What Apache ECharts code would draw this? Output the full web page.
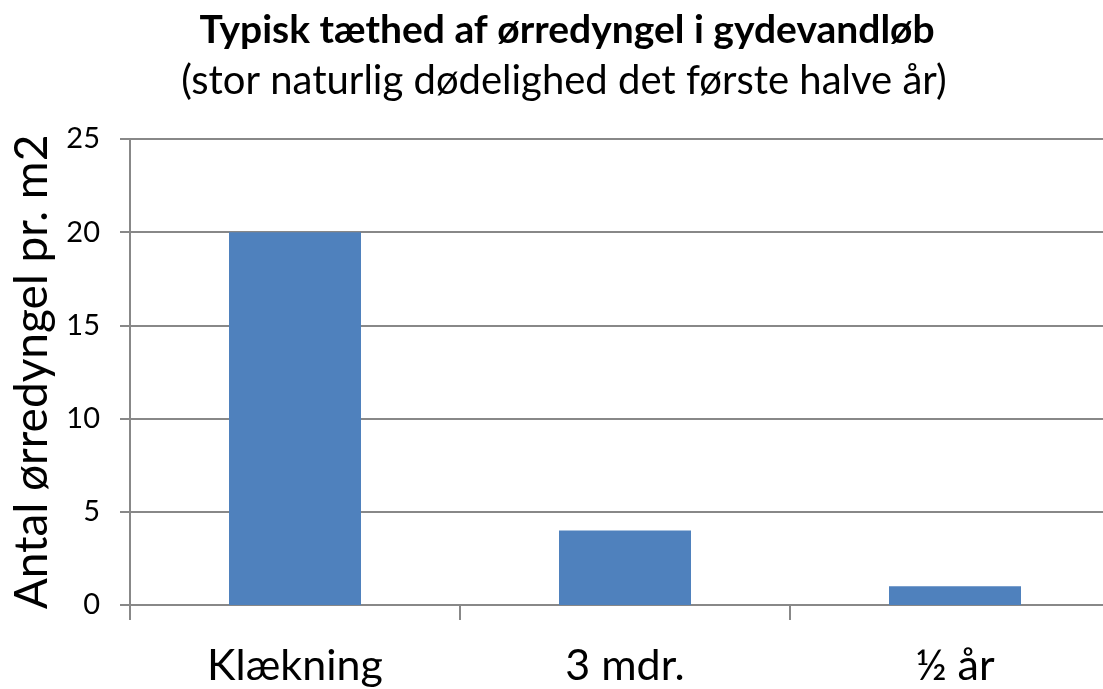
<!DOCTYPE html>
<html lang="da">
<head>
    <meta charset="UTF-8">
    <title>Typisk tæthed af ørredyngel i gydevandløb</title>
    <script src="https://cdn.jsdelivr.net/npm/echarts@6/dist/echarts.min.js"></script>
    <style>
        body { margin: 0; background: #fff; }
        #chart { width: 1103px; height: 689px; }
    </style>
</head>
<body>
    <div id="chart"></div>
    <script>
        // data
        const categories = ['Klækning', '3 mdr.', '½ år'];
        const values = [20, 4, 1];
        const yTicks = [0, 5, 10, 15, 20, 25];

        const font = "Lato, 'Open Sans', sans-serif";
        const chart = echarts.init(document.getElementById('chart'));
        chart.setOption({
            animation: false,
            title: [
                { text: 'Typisk tæthed af ørredyngel i gydevandløb', left: 562, top: 6, textAlign: 'center',
                  textStyle: { fontFamily: font, fontSize: 39, fontWeight: 'bold', color: '#000' } },
                { text: '(stor naturlig dødelighed det første halve år)', left: 559, top: 56, textAlign: 'center',
                  textStyle: { fontFamily: font, fontSize: 40, fontWeight: 'normal', color: '#000' } }
            ],
            grid: { left: 130, top: 139, width: 990, height: 466, outerBoundsMode: 'none' },
            xAxis: {
                type: 'category',
                data: categories,
                axisLine: { lineStyle: { color: '#888', width: 2 } },
                axisTick: { show: true, length: 15, lineStyle: { color: '#888', width: 2 } },
                axisLabel: { fontFamily: font, fontSize: 43, color: '#000', margin: 40 }
            },
            yAxis: {
                type: 'value',
                min: yTicks[0],
                max: yTicks[yTicks.length - 1],
                interval: 5,
                name: 'Antal ørredyngel pr. m2',
                nameLocation: 'middle',
                nameGap: 74,
                nameTextStyle: { fontFamily: font, fontSize: 46, color: '#000' },
                axisLine: { show: true, lineStyle: { color: '#888', width: 2 } },
                axisTick: { show: true, length: 10, lineStyle: { color: '#888', width: 2 } },
                axisLabel: { fontFamily: font, fontSize: 29, color: '#000', margin: 30 },
                splitLine: { lineStyle: { color: '#888', width: 2 } }
            },
            series: [{
                type: 'bar',
                data: values,
                barWidth: '40%',
                itemStyle: { color: '#4F81BD' }
            }]
        });
    </script>
</body>
</html>
